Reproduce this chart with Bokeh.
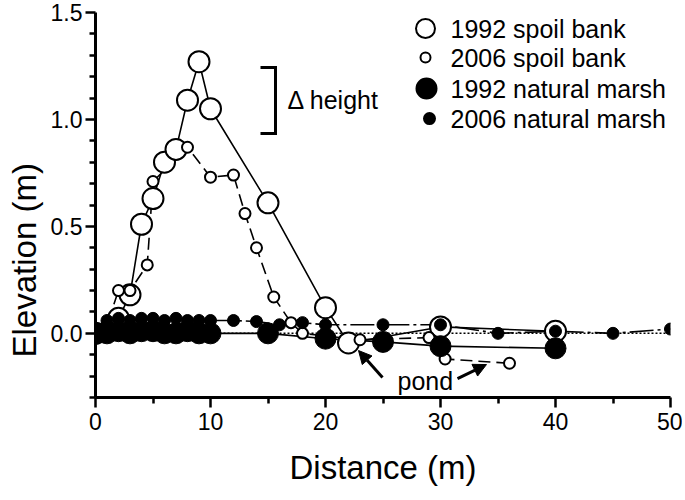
from bokeh.plotting import figure
from bokeh.models import Range1d, FixedTicker, Label, Arrow, NormalHead, Span, PrintfTickFormatter, Title
from bokeh.embed import file_html
from bokeh.resources import INLINE

# ---------------- data ----------------
sb92_x = [0, 2, 3, 4, 5, 6, 7, 8, 9, 10, 15, 20, 22, 30, 40]
sb92_y = [0.0, 0.07, 0.18, 0.51, 0.63, 0.80, 0.86, 1.09, 1.27, 1.05, 0.61, 0.12, -0.045, 0.03, 0.01]

sb06_x = [0, 1, 2, 3, 4.5, 5, 8, 10, 12, 13, 14, 15.5, 17, 18, 23, 29, 30.4, 36]
sb06_y = [0.0, 0.04, 0.20, 0.20, 0.32, 0.71, 0.87, 0.73, 0.74, 0.56, 0.40, 0.17, 0.05, 0.0, -0.03, -0.02, -0.12, -0.14]

nm92_x = [0, 1, 2, 3, 4, 5, 6, 7, 8, 9, 10, 15, 20, 25, 30, 40]
nm92_y = [0.0, 0.0, 0.01, 0.0, 0.01, 0.01, 0.0, 0.0, 0.01, 0.0, 0.0, 0.0, -0.025, -0.04, -0.06, -0.07]

nm06_x = [1, 2, 3, 4, 5, 6, 7, 8, 9, 10, 12, 14, 16, 18, 20, 25, 30, 35, 40, 45, 50]
nm06_y = [0.06, 0.07, 0.06, 0.07, 0.07, 0.06, 0.07, 0.06, 0.06, 0.06, 0.06, 0.055, 0.04, 0.05, 0.04, 0.04, 0.04, 0.0, 0.01, 0.0, 0.02]

x_ticks = [0, 10, 20, 30, 40, 50]
x_minor = [5, 15, 25, 35, 45]
y_ticks = [0.0, 0.5, 1.0, 1.5]
y_minor = [-0.3, -0.2, -0.1, 0.1, 0.2, 0.3, 0.4, 0.6, 0.7, 0.8, 0.9, 1.1, 1.2, 1.3, 1.4]

legend_labels = ["1992 spoil bank", "2006 spoil bank", "1992 natural marsh", "2006 natural marsh"]

FONT = "Liberation Sans"

# reference-pixel -> data helpers for annotation placement
def dx(px):
    return (px - 95.0) / 11.5

def dy(py):
    return (332.8 - py) / 213.9

p = figure(width=682, height=496, output_backend="svg", toolbar_location=None,
           x_range=Range1d(0, 50), y_range=Range1d(-0.3, 1.5),
           min_border_left=95, min_border_right=12, min_border_top=12, min_border_bottom=99)
p.outline_line_color = None
p.grid.visible = False
p.background_fill_color = "white"

for ax in (p.xaxis[0], p.yaxis[0]):
    ax.axis_line_width = 3
    ax.axis_line_color = "black"
    ax.major_tick_line_width = 2.5
    ax.minor_tick_line_width = 2.5
    ax.major_tick_line_color = "black"
    ax.minor_tick_line_color = "black"
    ax.major_tick_in = 0
    ax.minor_tick_in = 0
    ax.major_tick_out = 10
    ax.minor_tick_out = 6
    ax.major_label_text_font = FONT
    ax.major_label_text_font_size = "23px"
    ax.major_label_text_color = "black"

p.xaxis.ticker = FixedTicker(ticks=x_ticks, minor_ticks=x_minor)
p.yaxis.ticker = FixedTicker(ticks=y_ticks, minor_ticks=y_minor)
p.yaxis.formatter = PrintfTickFormatter(format="%.1f")
p.xaxis.major_label_standoff = 5
p.yaxis.major_label_standoff = 3

p.xaxis.axis_label = "Distance (m)"
p.xaxis.axis_label_text_font = FONT
p.xaxis.axis_label_text_font_size = "33px"
p.xaxis.axis_label_text_font_style = "normal"
p.xaxis.axis_label_text_color = "black"
p.xaxis.axis_label_standoff = 16

ytitle = Title(text="Elevation (m)", align="left", offset=40, vertical_align="top",
               text_font=FONT, text_font_size="33px", text_font_style="normal",
               text_color="black", standoff=6)
p.add_layout(ytitle, "left")

# dotted zero reference
zero = Span(location=0, dimension="width", line_color="black", line_width=1.5,
            line_dash="2 2", level="underlay")
p.add_layout(zero)

# lines
p.line(sb92_x, sb92_y, line_color="black", line_width=1.6)
p.line(sb06_x, sb06_y, line_color="black", line_width=1.6, line_dash="12 6")
p.line(nm92_x, nm92_y, line_color="black", line_width=1.6)
p.line(nm06_x, nm06_y, line_color="black", line_width=1.6, line_dash="24 4 3 4")

# markers
p.scatter(sb92_x, sb92_y, size=21, marker="circle", fill_color="white", line_color="black", line_width=2)
p.scatter(sb06_x, sb06_y, size=11, marker="circle", fill_color="white", line_color="black", line_width=2)
p.scatter(nm92_x, nm92_y, size=21, marker="circle", fill_color="black", line_color="black")
p.scatter(nm06_x, nm06_y, size=12, marker="circle", fill_color="black", line_color="black")

# legend (manual)
rows_py = [28, 57, 88, 118]
sym_px = [425, 425, 426, 429]
sizes = [19, 10, 20, 11]
fills = ["white", "white", "black", "black"]
for lab, ry, sx, sz, fc in zip(legend_labels, rows_py, sym_px, sizes, fills):
    p.scatter([dx(sx)], [dy(ry)], size=sz, marker="circle", fill_color=fc,
              line_color="black", line_width=2)
    p.add_layout(Label(x=dx(450), y=dy(ry), text=lab, text_font=FONT,
                       text_font_size="25px", text_baseline="middle", text_align="left",
                       text_color="black"))

# delta height bracket
for (x0, y0, x1, y1) in [(275, 67, 275, 133), (260, 67, 276.5, 67), (260, 133, 276.5, 133)]:
    p.add_layout(Arrow(x_start=dx(x0), y_start=dy(y0), x_end=dx(x1), y_end=dy(y1),
                       start=None, end=None, line_width=3, line_color="black"))
p.add_layout(Label(x=dx(287), y=dy(99), text="Δ height", text_font=FONT,
                   text_font_size="25px", text_baseline="middle", text_color="black"))

# pond annotation
p.add_layout(Label(x=dx(397), y=dy(380), text="pond", text_font=FONT,
                   text_font_size="25px", text_baseline="alphabetic", text_color="black"))
p.add_layout(Arrow(x_start=dx(382), y_start=dy(377), x_end=dx(358), y_end=dy(350),
                   line_width=3, line_color="black",
                   end=NormalHead(size=13, fill_color="black", line_color="black")))
p.add_layout(Arrow(x_start=dx(457), y_start=dy(378), x_end=dx(486), y_end=dy(364),
                   line_width=3, line_color="black",
                   end=NormalHead(size=13, fill_color="black", line_color="black")))

open("out.html", "w").write(file_html(p, INLINE))
